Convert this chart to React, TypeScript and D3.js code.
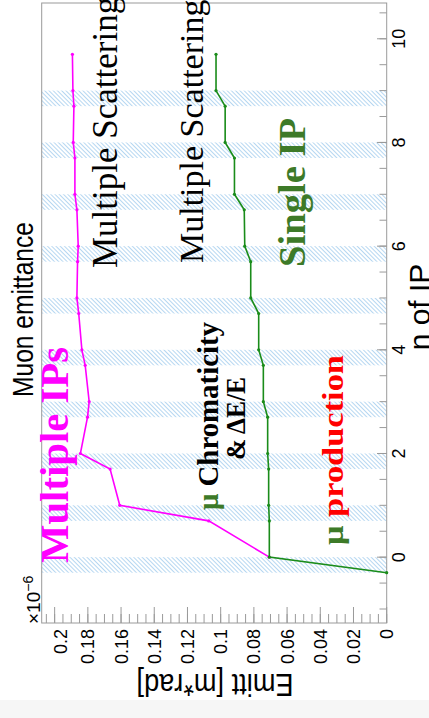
import React from 'react';
import * as d3 from 'd3';

// n of IP where points were taken
const ipSteps = [0, 0.7, 1, 1.7, 2, 2.7, 3, 3.7, 4, 4.7, 5, 5.7, 6, 6.7, 7, 7.7, 8, 8.7, 9, 9.7];
// emittance (x1e-6 m*rad)
const multipleIPs = [0.0707, 0.1072, 0.1608, 0.1666, 0.1845, 0.1802, 0.1792, 0.1816, 0.1836, 0.1855, 0.1866, 0.1862, 0.1858, 0.1866, 0.1878, 0.1878, 0.1888, 0.1884, 0.189, 0.1893];
const singleIP = [0.0707, 0.0707, 0.0711, 0.0711, 0.0717, 0.0717, 0.0743, 0.0743, 0.0771, 0.0771, 0.0819, 0.0819, 0.0855, 0.0858, 0.0917, 0.0917, 0.0973, 0.0973, 0.1028, 0.1028];
const singleStart = [-0.3, 0];
// IP positions (hatched bands) and their width
const ipPositions = [0, 1, 2, 3, 4, 5, 6, 7, 8, 9];
const ipWidth = 0.3;

const valueTicks = [0, 0.02, 0.04, 0.06, 0.08, 0.1, 0.12, 0.14, 0.16, 0.18, 0.2];
const nTicks = [0, 2, 4, 6, 8, 10];

const sans = '"Liberation Sans", Arial, sans-serif';
const serif = '"Liberation Serif", "Times New Roman", serif';
const green = '#3d7a28';
const axisColor = '#9a9a9a';

export default function App() {
  // plot is drawn rotated: n of IP runs bottom -> top, emittance runs right -> left
  const yN = d3.scaleLinear().domain([-1.27, 10.69]).range([623, 3]);
  const xV = d3.scaleLinear().domain([0, 0.2078]).range([386.7, 41.7]);

  const line = d3.line<[number, number]>()
    .x(d => xV(d[1]))
    .y(d => yN(d[0]));

  const multiPts: [number, number][] = ipSteps.map((n, i) => [n, multipleIPs[i]]);
  const singlePts: [number, number][] = [[singleStart[0], singleStart[1]], ...ipSteps.map((n, i) => [n, singleIP[i]] as [number, number])];

  const minorV = d3.range(0, 0.2076, 0.005);
  const minorN = d3.range(-1, 10.6, 0.5);

  const rot = (x: number, y: number) => `translate(${x},${y}) rotate(-90)`;

  return (
    <svg width={429} height={718} style={{ position: 'absolute', left: 0, top: 0, background: '#fff' }}>
      <defs>
        <pattern id="hatch" patternUnits="userSpaceOnUse" width={3} height={3} patternTransform="rotate(-45)">
          <line x1={0} y1={0} x2={0} y2={3} stroke="#79b6e6" strokeWidth={1.1} />
        </pattern>
      </defs>
      <rect x={0} y={700} width={429} height={18} fill="#f6f6f6" />

      {/* IP bands */}
      {ipPositions.map(n => (
        <rect key={'b' + n} x={xV.range()[1]} y={yN(n)} width={xV.range()[0] - xV.range()[1]}
          height={yN(n - ipWidth) - yN(n)} fill="url(#hatch)" />
      ))}

      {/* frame */}
      <rect x={41.7} y={3} width={345} height={620} fill="none" stroke={axisColor} strokeWidth={1} />

      {/* emittance axis ticks */}
      {minorV.map((v, i) => (
        <line key={'mv' + i} x1={xV(v)} x2={xV(v)} y1={623} y2={614} stroke={axisColor} />
      ))}
      {valueTicks.map(v => (
        <line key={'tv' + v} x1={xV(v)} x2={xV(v)} y1={623} y2={607} stroke={axisColor} />
      ))}
      {valueTicks.map((v, i) => (
        <text key={'lv' + v} transform={rot(xV(v) + 6.5 + (i === valueTicks.length - 1 ? 5.5 : 0), 629)}
          textAnchor="end" fontFamily={sans} fontSize={18} fill="#000">
          {String(+v.toFixed(2))}
        </text>
      ))}
      <text transform={rot(40, 624)} fontFamily={sans} fontSize={19} fill="#000">
        ×10<tspan dy={-7} fontSize={14}>−6</tspan>
      </text>
      <text transform="translate(215,673.5) rotate(180)" textAnchor="middle" fontFamily={sans} fontSize={32}
        textLength={157} lengthAdjust="spacingAndGlyphs" fill="#000">
        Emitt [m*rad]
      </text>

      {/* n of IP axis */}
      {minorN.map((n, i) => (
        <line key={'mn' + i} x1={386.7} x2={379.5} y1={yN(n)} y2={yN(n)} stroke={axisColor} />
      ))}
      {nTicks.map(n => (
        <line key={'tn' + n} x1={386.7} x2={377} y1={yN(n)} y2={yN(n)} stroke={axisColor} />
      ))}
      {nTicks.map(n => (
        <text key={'ln' + n} transform={rot(405, yN(n))} textAnchor="middle" fontFamily={sans} fontSize={18} fill="#000">
          {n}
        </text>
      ))}
      <text transform={rot(430, 307)} textAnchor="middle" fontFamily={sans} fontSize={30} fill="#000">n of IP</text>

      {/* title */}
      <text transform={rot(33, 309.5)} textAnchor="middle" fontFamily={sans} fontSize={30}
        textLength={175} lengthAdjust="spacingAndGlyphs" fill="#000">
        Muon emittance
      </text>

      {/* curves */}
      <path d={line(multiPts) || ''} fill="none" stroke="#ff00ff" strokeWidth={1.6} />
      {multiPts.map((d, i) => (
        <circle key={'pm' + i} cx={xV(d[1])} cy={yN(d[0])} r={1.6} fill="#ff00ff" />
      ))}
      <path d={line(singlePts) || ''} fill="none" stroke="#1a8c1a" strokeWidth={1.6} />
      {singlePts.map((d, i) => (
        <circle key={'ps' + i} cx={xV(d[1])} cy={yN(d[0])} r={1.6} fill="#1a8c1a" />
      ))}

      {/* annotations */}
      <text transform={rot(68, 563)} fontFamily={serif} fontWeight="bold" fontSize={40} fill="#ff00ff"
        textLength={216} lengthAdjust="spacingAndGlyphs">Multiple IPs</text>
      <text transform={rot(117, 268)} fontFamily={serif} fontSize={35} fill="#000">Multiple Scattering</text>
      <text transform={rot(203, 263)} fontFamily={serif} fontSize={34} fill="#000">Multiple Scattering</text>
      <text transform={rot(218, 510)} fontFamily={serif} fontWeight="bold" fontSize={29} fill="#000"
        textLength={188} lengthAdjust="spacingAndGlyphs">
        <tspan fill={green}>μ</tspan> Chromaticity
      </text>
      <text transform={rot(245, 460)} fontFamily={serif} fontWeight="bold" fontSize={27} fill="#000"
        textLength={83} lengthAdjust="spacingAndGlyphs">&amp; ΔE/E</text>
      <text transform={rot(305, 267)} fontFamily={serif} fontWeight="bold" fontSize={38} fill={green}
        textLength={149} lengthAdjust="spacingAndGlyphs">Single IP</text>
      <text transform={rot(343, 545)} fontFamily={serif} fontWeight="bold" fontSize={30} fill="#ff0000"
        textLength={190} lengthAdjust="spacingAndGlyphs">
        <tspan fill={green}>μ</tspan> production
      </text>
    </svg>
  );
}
